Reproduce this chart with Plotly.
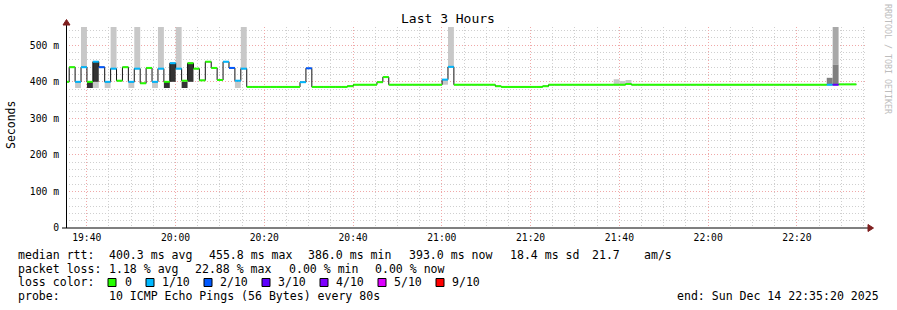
import plotly.graph_objects as go
import pandas as pd

# ---------------- data ----------------
T_START = "2025-12-14 19:34:43"      # start of first 80 s step
STEP_SECONDS = 80
VIEW_START = "2025-12-14 19:35:20"
VIEW_END = "2025-12-14 22:35:20"

# median rtt per 80 s step (ms)
median_ms = [
    400, 440, 400, 440, 400, 455, 440, 400, 436, 403,
    440, 400, 436, 396, 438, 400, 436, 400, 451, 436,
    403, 451, 436, 404, 455, 438, 405, 455, 438, 403,
    436, 386, 386, 386, 386, 386, 386, 386, 386, 386,
    399, 437, 386, 386, 386, 386, 386, 386, 388, 392,
    392, 392, 392, 399, 413, 392, 392, 392, 392, 392,
    392, 392, 392, 392, 406, 441, 392, 392, 392, 392,
    392, 392, 392, 388, 386, 386, 386, 386, 386, 386,
    386, 388, 392, 392, 392, 392, 392, 392, 392, 392,
    392, 392, 392, 392, 392, 394, 392, 392, 392, 392,
    392, 392, 392, 392, 392, 392, 392, 392, 392, 392,
    392, 392, 392, 392, 392, 392, 392, 392, 392, 392,
    392, 392, 392, 392, 392, 392, 392, 392, 392, 392,
    392, 393, 393, 393,
]
# lost pings out of 10 per step
loss_tenths = [
    0, 0, 1, 1, 0, 1, 2, 1, 1, 0,
    0, 1, 1, 0, 0, 1, 1, 0, 1, 1,
    0, 0, 0, 0, 0, 0, 0, 1, 2, 1,
    1, 0, 0, 0, 0, 0, 0, 0, 0, 0,
    1, 2, 0, 0, 0, 0, 0, 0, 0, 0,
    0, 0, 0, 0, 0, 0, 0, 0, 0, 0,
    0, 0, 0, 0, 1, 1, 0, 0, 0, 0,
    0, 0, 0, 0, 0, 0, 0, 0, 0, 0,
    0, 0, 0, 0, 0, 0, 0, 0, 0, 0,
    0, 0, 0, 0, 0, 0, 0, 0, 0, 0,
    0, 0, 0, 0, 0, 0, 0, 0, 0, 0,
    0, 0, 0, 0, 0, 0, 0, 0, 0, 0,
    0, 0, 0, 0, 0, 0, 0, 0, 0, 1,
    3, 0, 0, 0,
]

# smoke (spread of the individual pings), sparse: step index, low, high (ms)
sparse_smoke_steps = [2, 3, 5, 7, 8, 11, 12, 15, 16, 19, 29, 30, 48, 64, 65, 93, 94, 95]
sparse_smoke_lo = [383, 440, 383, 383, 436, 383, 436, 383, 436, 436, 383, 436, 388, 392, 441, 392, 392, 394]
sparse_smoke_hi = [400, 600, 400, 400, 600, 400, 600, 400, 600, 600, 400, 600, 391, 406, 600, 407, 402, 405]

dense_smoke_steps = [4, 5, 17, 18, 20, 21]
dense_smoke_lo = [383, 400, 383, 400, 383, 400]
dense_smoke_hi = [400, 455, 400, 451, 400, 451]

medium_smoke_steps = [129, 130]
medium_smoke_lo = [392, 392]
medium_smoke_hi = [411, 447]

light_medium_smoke_steps = [130]
light_medium_smoke_lo = [447]
light_medium_smoke_hi = [600]

y_tick_values = [0, 100, 200, 300, 400, 500]
y_tick_labels = ["0", "100 m", "200 m", "300 m", "400 m", "500 m"]

loss_levels = [0, 1, 2, 3, 4, 5, 9]
loss_labels = ["0", "1/10", "2/10", "3/10", "4/10", "5/10", "9/10"]
loss_colors = ["#26ff00", "#00b8ff", "#0059ff", "#5e00ff", "#7e00ff", "#dd00ff", "#ff0000"]

title_text = "Last 3 Hours"
median_items = ["median rtt:", "400.3 ms avg", "455.8 ms max", "386.0 ms min",
                "393.0 ms now", "18.4 ms sd", "21.7", "am/s"]
loss_items = ["packet loss:", "1.18 % avg", "22.88 % max", "0.00 % min", "0.00 % now"]
probe_items = ["probe:", "10 ICMP Echo Pings (56 Bytes) every 80s"]
end_line = "end: Sun Dec 14 22:35:20 2025"

# ---------------- geometry helpers ----------------
W, H = 897, 310
PL, PT, PW, PH = 66, 27, 799, 201
MONO = "DejaVu Sans Mono"


def px(xp):
    return (xp - PL) / PW


def py(yp):
    return (PT + PH - yp) / PH


def nb(s):
    return s.replace(" ", "\u00a0")


step = pd.Timedelta(seconds=STEP_SECONDS)
starts = pd.date_range(T_START, periods=len(median_ms), freq=f"{STEP_SECONDS}s")
ends = starts + step
centers = starts + step / 2

fig = go.Figure()


def add_smoke(steps, lo, hi, color):
    fig.add_trace(go.Bar(
        x=[centers[i] for i in steps],
        base=lo,
        y=[h - l for h, l in zip(hi, lo)],
        width=[STEP_SECONDS * 1000] * len(steps),
        marker=dict(color=color, line=dict(width=0)),
        hoverinfo="skip", showlegend=False,
    ))


add_smoke(sparse_smoke_steps, sparse_smoke_lo, sparse_smoke_hi, "#c8c8c8")
add_smoke(light_medium_smoke_steps, light_medium_smoke_lo, light_medium_smoke_hi, "#a8a8a8")
add_smoke(medium_smoke_steps, medium_smoke_lo, medium_smoke_hi, "#808080")
add_smoke(dense_smoke_steps, dense_smoke_lo, dense_smoke_hi, "#333333")

# black median step line
fig.add_trace(go.Scatter(
    x=list(starts) + [ends[-1]],
    y=median_ms + [median_ms[-1]],
    mode="lines", line=dict(color="#111111", width=1, shape="hv"),
    hoverinfo="skip", showlegend=False,
))

# coloured median segments by loss
for lvl, col in zip(loss_levels, loss_colors):
    xs, ys = [], []
    for i, v in enumerate(median_ms):
        if loss_tenths[i] == lvl:
            xs += [starts[i], ends[i], None]
            ys += [v, v, None]
    if xs:
        fig.add_trace(go.Scatter(
            x=xs, y=ys, mode="lines",
            line=dict(color=col, width=2),
            connectgaps=False, hoverinfo="skip", showlegend=False,
        ))

minor_grid = "#cfcfcf"
major_grid = "#f0a8a8"
dots = "1px,2px"

fig.update_layout(
    width=W, height=H,
    margin=dict(l=PL, r=W - PL - PW, t=PT, b=H - PT - PH, pad=0),
    paper_bgcolor="white", plot_bgcolor="white",
    barmode="overlay", showlegend=False,
    font=dict(family=MONO, color="black", size=10),
    xaxis=dict(
        type="date", range=[VIEW_START, VIEW_END], automargin=False,
        tick0="2025-12-14 19:40:00", dtick=20 * 60 * 1000, tickformat="%H:%M",
        showgrid=True, gridcolor=major_grid, griddash=dots, gridwidth=1,
        minor=dict(dtick=5 * 60 * 1000, tick0="2025-12-14 19:40:00", showgrid=True,
                   gridcolor=minor_grid, griddash=dots, gridwidth=1),
        showline=False, zeroline=False, ticks="",
        tickfont=dict(family=MONO, size=9.7, color="black"),
        ticklabelstandoff=2,
    ),
    yaxis=dict(
        range=[0, 550], automargin=False,
        tickvals=y_tick_values, ticktext=y_tick_labels,
        showgrid=True, gridcolor=major_grid, griddash=dots, gridwidth=1,
        minor=dict(dtick=20, tick0=0, showgrid=True,
                   gridcolor=minor_grid, griddash=dots, gridwidth=1),
        showline=False, zeroline=False, ticks="",
        tickfont=dict(family=MONO, size=9.7, color="black"),
        ticklabelstandoff=6,
    ),
)

shapes = []
# axes
shapes.append(dict(type="line", xref="paper", yref="paper",
                   x0=px(62), x1=px(869), y0=py(228), y1=py(228),
                   line=dict(color="black", width=1)))
shapes.append(dict(type="line", xref="paper", yref="paper",
                   x0=px(66.5), x1=px(66.5), y0=py(228), y1=py(23),
                   line=dict(color="black", width=1)))
arrow_col = "#7f1f1f"
shapes.append(dict(type="path", xref="paper", yref="paper",
                   path=f"M {px(868)},{py(224.5)} L {px(873.5)},{py(228)} L {px(868)},{py(231.5)} Z",
                   fillcolor=arrow_col, line=dict(color=arrow_col, width=1)))
shapes.append(dict(type="path", xref="paper", yref="paper",
                   path=f"M {px(63)},{py(25)} L {px(66.5)},{py(19.5)} L {px(70)},{py(25)} Z",
                   fillcolor=arrow_col, line=dict(color=arrow_col, width=1)))

# legend squares
square_x = [108, 146, 204, 262, 320, 378, 436]
label_x = [123, 160, 218, 276, 334, 392, 450]
for sx, col in zip(square_x, loss_colors):
    shapes.append(dict(type="rect", xref="paper", yref="paper",
                       x0=px(sx), x1=px(sx + 8), y0=py(286.5), y1=py(278.5),
                       fillcolor=col, line=dict(color="black", width=1)))
fig.update_layout(shapes=shapes)

ann = []
LEG = 11.55


def text_at(text, xp, yp, anchor="left", size=LEG, color="black", angle=0):
    ann.append(dict(text=nb(text), x=px(xp), y=py(yp), xref="paper", yref="paper",
                    xanchor=anchor, yanchor="middle", showarrow=False, textangle=angle,
                    font=dict(family=MONO, size=size, color=color)))


text_at(title_text, 448, 19, anchor="center", size=13)
text_at("Seconds", 11, 125, anchor="center", size=11.5, angle=-90)
text_at("RRDTOOL / TOBI OETIKER", 888, 59, anchor="center", size=8.3, color="#bdbdbd", angle=90)

median_x = [16, 106.5, 206.5, 306, 406.5, 507.5, 590, 641.5]
loss_x = [16, 106.5, 193, 286.5, 372.5]
probe_x = [16, 106.5]
for t, xp in zip(median_items, median_x):
    text_at(t, xp, 255)
for t, xp in zip(loss_items, loss_x):
    text_at(t, xp, 268.5)
text_at("loss color:", 16, 282)
for lx, lab in zip(label_x, loss_labels):
    text_at(lab, lx, 282)
for t, xp in zip(probe_items, probe_x):
    text_at(t, xp, 295.5)
text_at(end_line, 881, 295.5, anchor="right")
fig.update_layout(annotations=ann)

fig.write_html("out.html")
